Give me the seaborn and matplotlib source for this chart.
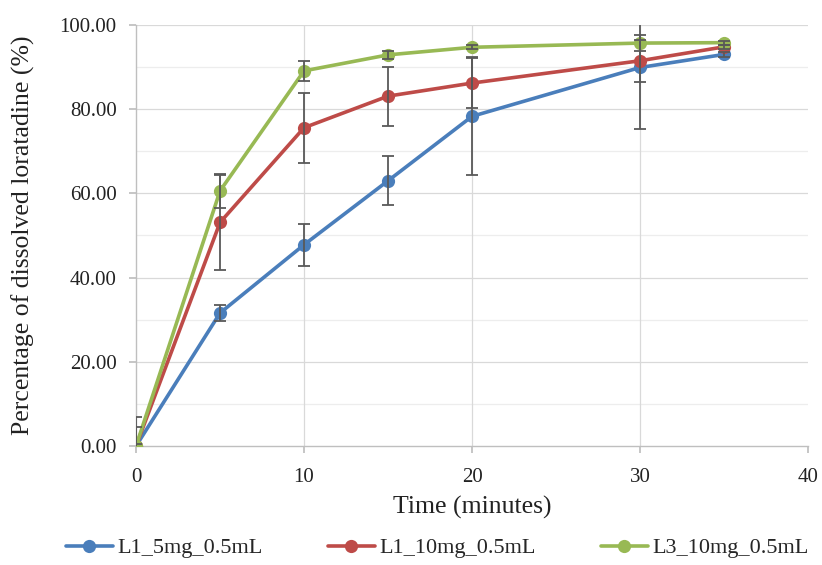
import numpy as np
import pandas as pd
import matplotlib
matplotlib.use("Agg")
import matplotlib.pyplot as plt
import seaborn as sns

time = [0, 5, 10, 15, 20, 30, 35]
series_names = ["L1_5mg_0.5mL", "L1_10mg_0.5mL", "L3_10mg_0.5mL"]
l1_5 = [0.0, 31.6, 47.8, 63.0, 78.3, 89.9, 93.0]
l1_5_err = [4.5, 1.8, 5.0, 5.8, 14.0, 14.5, 0.5]
l1_10 = [0.0, 53.1, 75.6, 83.1, 86.2, 91.5, 94.8]
l1_10_err = [7.0, 11.3, 8.3, 7.0, 6.0, 5.0, 0.5]
l3_10 = [0.0, 60.6, 89.1, 92.9, 94.7, 95.7, 95.8]
l3_10_err = [0.5, 4.0, 2.3, 1.0, 0.5, 2.0, 0.5]

colors = ["#4A7EBB", "#BE4B48", "#98B954"]

sns.set_theme(style="white")
plt.rcParams['font.family'] = ['Liberation Serif', 'DejaVu Serif']

df = pd.DataFrame({
    "time": time * 3,
    "value": l1_5 + l1_10 + l3_10,
    "series": [series_names[0]] * 7 + [series_names[1]] * 7 + [series_names[2]] * 7,
})

fig = plt.figure(figsize=(8.22, 5.65), dpi=100)
ax = fig.add_axes([0.1655, 0.2106, 0.8175, 0.7452])

# gridlines
for yv in range(10, 101, 10):
    ax.axhline(yv, color="#D9D9D9" if yv % 20 == 0 else "#EDEDED", lw=0.9, zorder=0)
for xv in [10, 20, 30]:
    ax.axvline(xv, color="#D9D9D9", lw=0.9, zorder=0)

sns.lineplot(data=df, x="time", y="value", hue="series", palette=colors,
             marker="o", markersize=9.5, markeredgewidth=0, linewidth=2.6,
             ax=ax, zorder=3, legend=True)

for vals, errs in [(l1_5, l1_5_err), (l1_10, l1_10_err), (l3_10, l3_10_err)]:
    ax.errorbar(time, vals, yerr=errs, fmt="none", ecolor="#595959",
                elinewidth=1.3, capsize=4, capthick=1.3, zorder=4, clip_on=True)

ax.set_xlim(0, 40)
ax.set_ylim(0, 100)
ax.set_xticks([0, 10, 20, 30, 40])
ax.set_yticks([0, 20, 40, 60, 80, 100])
ax.set_yticklabels([f"{v:.2f}" for v in [0, 20, 40, 60, 80, 100]])
ax.tick_params(axis="both", labelsize=15, colors="#222222", length=5,
               color="#BFBFBF", direction="out", bottom=True, left=True)
ax.tick_params(axis="x", pad=11)
ax.tick_params(axis="y", pad=9)
for s in ["top", "right"]:
    ax.spines[s].set_visible(False)
for s in ["left", "bottom"]:
    ax.spines[s].set_color("#BFBFBF")
    ax.spines[s].set_linewidth(1.0)

ax.set_xlabel("Time (minutes)", fontsize=18.5, color="#222222")
ax.set_ylabel("Percentage of dissolved loratadine (%)", fontsize=18.5,
              color="#222222")
ax.xaxis.set_label_coords(0.5, -0.118)
ax.yaxis.set_label_coords(-0.15, 0.5)

handles, labels = ax.get_legend_handles_labels()
ax.get_legend().remove()
fig.legend(handles, labels, loc="center", bbox_to_anchor=(0.532, 0.03),
           ncol=3, frameon=False, fontsize=16, columnspacing=2.9,
           handlelength=2.15, handletextpad=0.2, borderpad=0.1)

fig.savefig("out.png", dpi=100)
